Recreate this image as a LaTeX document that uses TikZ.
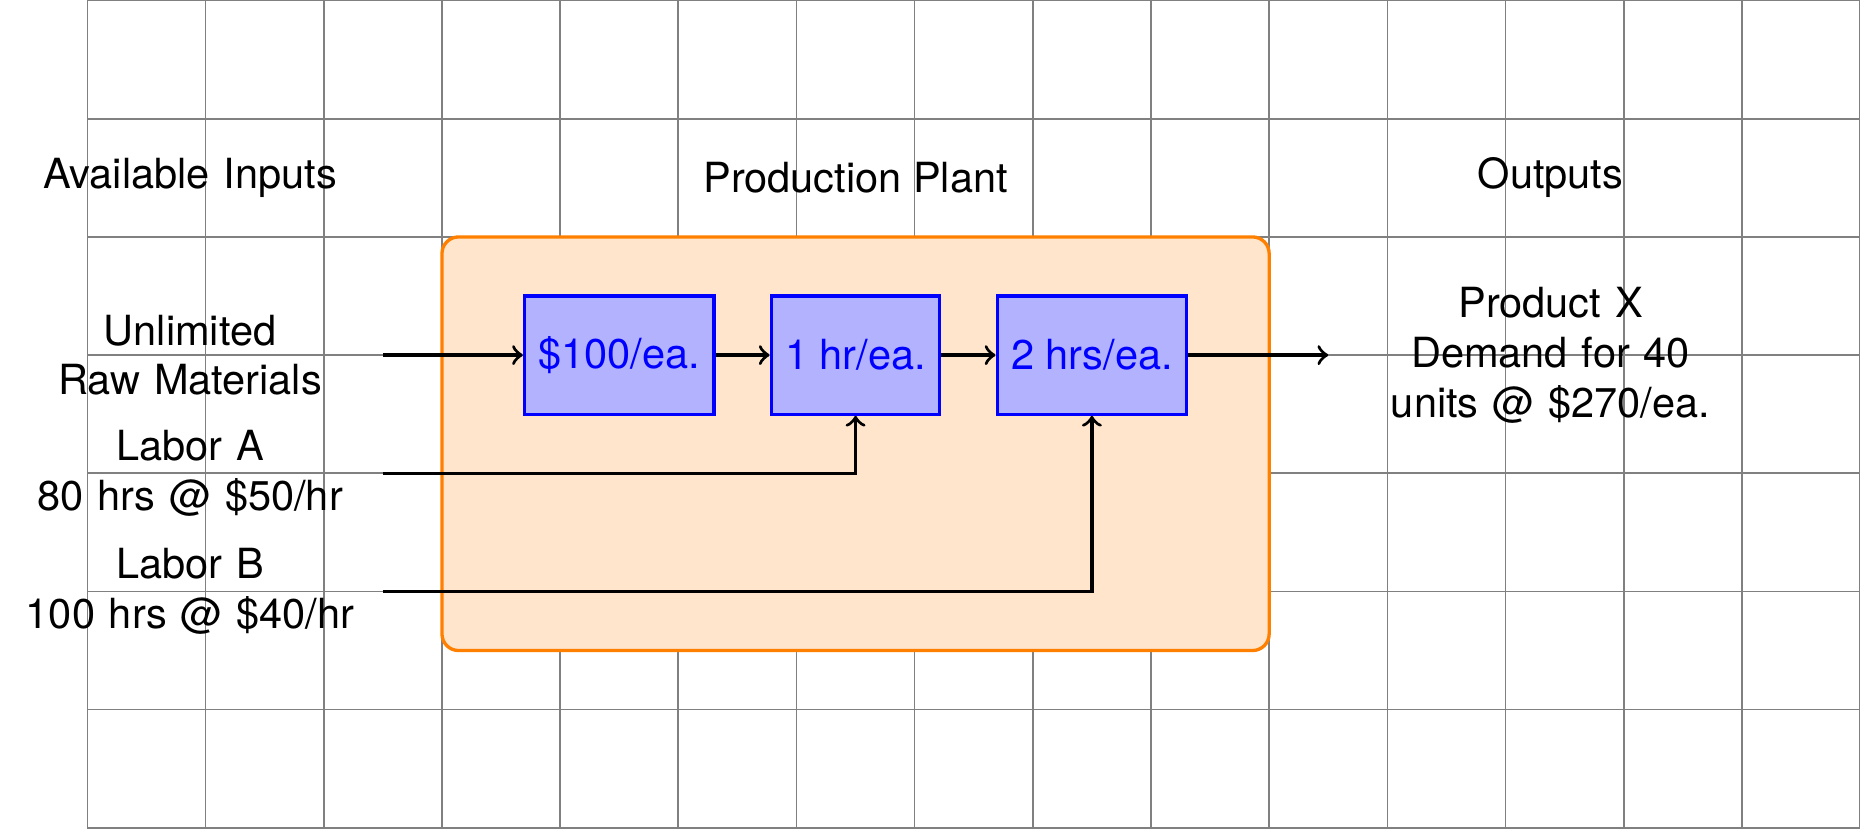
\documentclass[tikz,border=0pt]{standalone}
\usepackage{fontspec}
\setmainfont{TeX Gyre Heros}
\usetikzlibrary{positioning}

\begin{document}
\begin{tikzpicture}[thick, stage/.style={draw=blue, fill=blue!30, text=blue, minimum height=1cm}, inlabel/.style={left, text width=3cm, align=center}, outlabel/.style={right, text width=3.5cm, align=center}]
  \useasboundingbox (-0.74,-0.005) rectangle (15,7.005);
  \draw[gray, thin] (0,0) grid (15,7);

  % headings
  \node[inlabel] (inputs) at (2.5,5.5) {Available Inputs};
  \node (plant) at (6.5,5.5) {Production Plant};
  \node[outlabel] (outputs) at (10.5,5.5) {Outputs};

  % plant
  \draw[orange, fill=orange!20, rounded corners] (3,1.5) rectangle (10,5);
  \node[stage] (material) at (4.5,4) {\$100/ea.};
  \node[stage] (laborA) at (6.5,4) {1 hr/ea.};
  \node[stage] (laborB) at (8.5,4) {2 hrs/ea.};

  % inputs and output
  \coordinate (rawin) at (2.5,4);
  \coordinate (ain) at (2.5,3);
  \coordinate (bin) at (2.5,2);
  \coordinate (prodout) at (10.5,4);
  \node[inlabel] (raw) at (rawin) {Unlimited\\Raw Materials};
  \node[inlabel] (labA) at (ain) {Labor A\\80 hrs @ \$50/hr};
  \node[inlabel] (labB) at (bin) {Labor B\\100 hrs @ \$40/hr};
  \node[outlabel] (product) at (prodout) {Product X\\Demand for 40\\units @ \$270/ea.};

  \draw[->] (rawin) -- (material);
  \draw[->] (material) -- (laborA);
  \draw[->] (laborA) -- (laborB);
  \draw[->] (laborB) -- (prodout);
  \draw[->] (ain) -| (laborA.south);
  \draw[->] (bin) -| (laborB.south);
\end{tikzpicture}
\end{document}
